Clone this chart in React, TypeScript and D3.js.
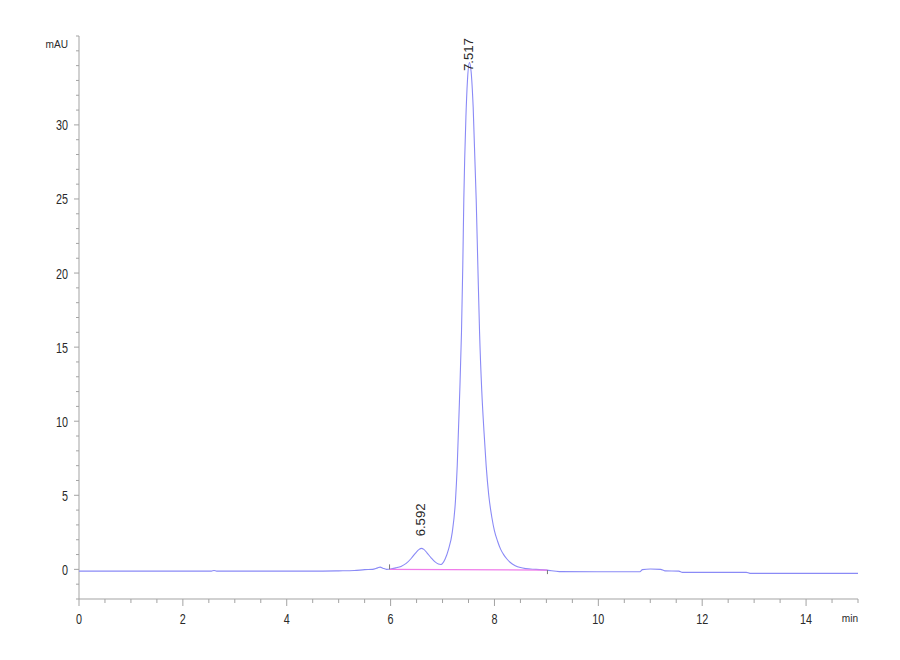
import React from "react";
import * as d3 from "d3";

// Retention time (min) and detector signal (mAU)
const times = [
  0, 1, 2, 2.55, 2.6, 2.65, 3.5, 4.5, 5.0, 5.3, 5.5, 5.65, 5.75, 5.8, 5.85, 5.92,
  6.0, 6.1, 6.2, 6.3, 6.4, 6.48, 6.55, 6.592, 6.64, 6.7, 6.78, 6.85, 6.92, 6.97,
  7.05, 7.115, 7.187, 7.25, 7.283, 7.327, 7.365, 7.39, 7.41, 7.45, 7.48, 7.517,
  7.55, 7.59, 7.648, 7.68, 7.713, 7.756, 7.8, 7.84, 7.89, 7.95, 8.0, 8.06, 8.12,
  8.18, 8.24, 8.3, 8.4, 8.5, 8.6, 8.8, 9.0, 9.25, 10.0, 10.8, 10.85, 11.0, 11.2, 11.28,
  11.55, 11.62, 12.85, 12.92, 14.0, 15.0,
];
const absorbance = [
  -0.12, -0.12, -0.12, -0.12, -0.08, -0.12, -0.12, -0.12, -0.1, -0.08, -0.02, 0.0, 0.1, 0.15, 0.08, 0.0,
  0.02, 0.1, 0.2, 0.4, 0.75, 1.1, 1.35, 1.42, 1.35, 1.12, 0.78, 0.52, 0.36, 0.33,
  0.7, 1.35, 2.5, 4.7, 7.0, 11.5, 16.0, 20.5, 25.0, 30.5, 33.0, 34.2,
  33.6, 31.2, 25.0, 20.5, 16.0, 12.0, 9.2, 7.0, 5.0, 3.5, 2.6, 1.9, 1.35,
  0.98, 0.7, 0.48, 0.25, 0.12, 0.05, 0.0, -0.05, -0.15, -0.16, -0.16, -0.02, 0.02, 0.0, -0.1,
  -0.12, -0.2, -0.2, -0.27, -0.27, -0.27,
];

// Integrated peaks
const peakTimes = [6.592, 7.517];
const peakHeights = [1.42, 34.2];
const peakLabels = ["6.592", "7.517"];

// Integration baseline
const baselineTimes = [5.98, 9.02];
const baselineValues = [0.0, -0.05];

// Axes
const xMajorTicks = [0, 2, 4, 6, 8, 10, 12, 14];
const xTickLabels = ["0", "2", "4", "6", "8", "10", "12", "14"];
const yMajorTicks = [0, 5, 10, 15, 20, 25, 30];
const yTickLabels = ["0", "5", "10", "15", "20", "25", "30"];
const xDomain = [0, 15];
const yDomain = [-2, 36];

const FONT = "'Liberation Sans', Arial, sans-serif";
const AXIS = "#a3a3a3";
const TEXT = "#2a2a2a";

export default function App() {
  const x = d3.scaleLinear().domain(xDomain).range([79, 858]);
  const y = d3.scaleLinear().domain(yDomain).range([599, 36]);

  const trace = d3
    .line<number>()
    .x((_, i) => x(times[i]))
    .y((d) => y(d))
    .curve(d3.curveMonotoneX)(absorbance) as string;

  const base = d3
    .line<number>()
    .x((_, i) => x(baselineTimes[i]))
    .y((d) => y(d))(baselineValues) as string;

  const xMinor = d3.range(xDomain[0], xDomain[1] + 0.001, 0.5);
  const yMinor = d3.range(yDomain[0], yDomain[1] + 0.001, 1);
  const isXMajor = (t: number) => xMajorTicks.some((m) => Math.abs(m - t) < 1e-6);
  const isYMajor = (t: number) => yMajorTicks.some((m) => Math.abs(m - t) < 1e-6);

  const x0 = x(xDomain[0]);
  const yb = y(yDomain[0]);

  return (
    <svg
      width={900}
      height={660}
      style={{ position: "absolute", left: 0, top: 0, background: "#fff" }}
    >
      {/* axes */}
      <line x1={x0} x2={x0} y1={y(yDomain[1])} y2={yb} stroke={AXIS} strokeWidth={1} />
      <line x1={x0} x2={x(xDomain[1])} y1={yb} y2={yb} stroke={AXIS} strokeWidth={1} />
      {yMinor.map((t) => (
        <line
          key={"ym" + t}
          x1={x0 - (isYMajor(t) ? 5 : 3)}
          x2={x0}
          y1={y(t)}
          y2={y(t)}
          stroke={AXIS}
          strokeWidth={1}
        />
      ))}
      {xMinor.map((t) => (
        <line
          key={"xm" + t}
          x1={x(t)}
          x2={x(t)}
          y1={yb}
          y2={yb + (isXMajor(t) ? 7 : 4)}
          stroke={AXIS}
          strokeWidth={1}
        />
      ))}
      {yMajorTicks.map((t, i) => (
        <text
          key={"yl" + t}
          transform={`translate(${x0 - 11},${y(t) + 5.5}) scale(0.72,1)`}
          textAnchor="end"
          fontFamily={FONT}
          fontSize={15}
          fill={TEXT}
        >
          {yTickLabels[i]}
        </text>
      ))}
      {xMajorTicks.map((t, i) => (
        <text
          key={"xl" + t}
          transform={`translate(${x(t)},${yb + 25}) scale(0.72,1)`}
          textAnchor="middle"
          fontFamily={FONT}
          fontSize={15}
          fill={TEXT}
        >
          {xTickLabels[i]}
        </text>
      ))}
      <text
        transform={`translate(${x0 - 11},48) scale(0.92,1)`}
        textAnchor="end"
        fontFamily={FONT}
        fontSize={11}
        fill={TEXT}
      >
        mAU
      </text>
      <text
        transform={`translate(${x(xDomain[1])},${yb + 23}) scale(0.92,1)`}
        textAnchor="end"
        fontFamily={FONT}
        fontSize={11}
        fill={TEXT}
      >
        min
      </text>

      {/* signal */}
      <path d={trace} fill="none" stroke="#8a8af6" strokeWidth={1.1} />

      {/* integration baseline */}
      <path d={base} fill="none" stroke="#f07cea" strokeWidth={1.2} />
      <line
        x1={x(baselineTimes[0])}
        x2={x(baselineTimes[0])}
        y1={y(baselineValues[0]) - 5}
        y2={y(baselineValues[0])}
        stroke="#777"
        strokeWidth={1}
      />
      <line
        x1={x(baselineTimes[1])}
        x2={x(baselineTimes[1])}
        y1={y(baselineValues[1])}
        y2={y(baselineValues[1]) + 4}
        stroke="#777"
        strokeWidth={1}
      />

      {/* peak labels */}
      {peakTimes.map((t, i) => {
        const ly = Math.max(y(peakHeights[i]) - 12, 71);
        return (
          <text
            key={"pk" + i}
            transform={`translate(${x(t) + 4},${ly}) rotate(-90) scale(1.05,1)`}
            fontFamily={FONT}
            fontSize={12.5}
            fill={TEXT}
          >
            {peakLabels[i]}
          </text>
        );
      })}
    </svg>
  );
}
